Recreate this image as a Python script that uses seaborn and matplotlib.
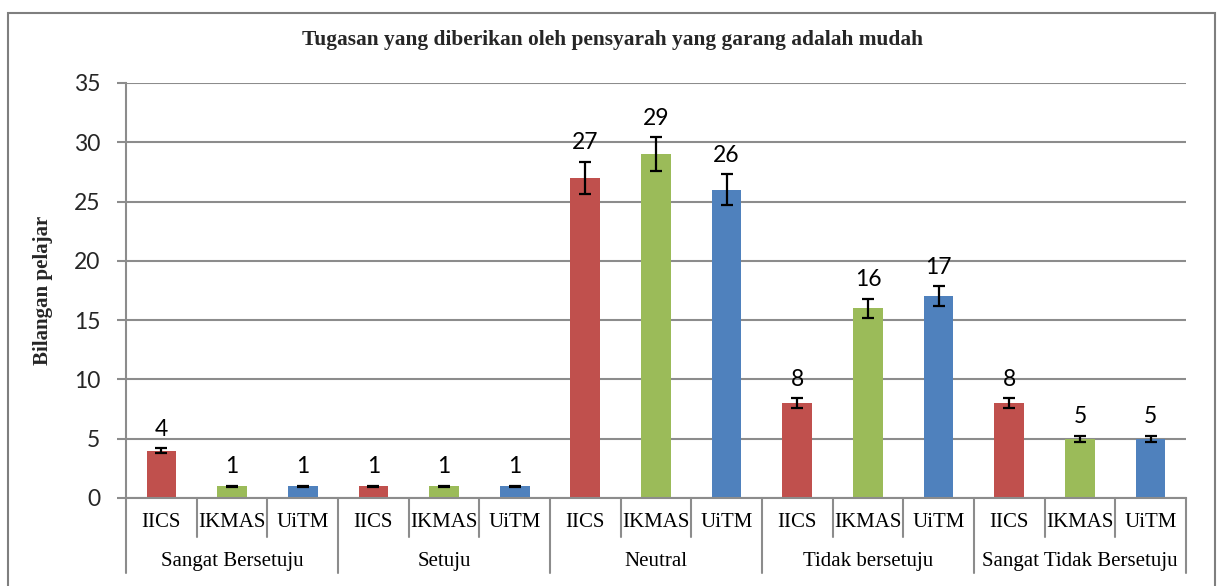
import numpy as np
import pandas as pd
import matplotlib
matplotlib.use("Agg")
import matplotlib.pyplot as plt
import seaborn as sns
from matplotlib.patches import Rectangle
from matplotlib.lines import Line2D

# data
responses = ["Sangat Bersetuju", "Setuju", "Neutral", "Tidak bersetuju", "Sangat Tidak Bersetuju"]
institutions = ["IICS", "IKMAS", "UiTM"]
iics = [4, 1, 27, 8, 8]
ikmas = [1, 1, 29, 16, 5]
uitm = [1, 1, 26, 17, 5]
# error bar half-lengths (Excel 5% error bars)
err_iics = [0.2, 0.05, 1.35, 0.4, 0.4]
err_ikmas = [0.05, 0.05, 1.45, 0.8, 0.25]
err_uitm = [0.05, 0.05, 1.3, 0.85, 0.25]
y_ticks = [0, 5, 10, 15, 20, 25, 30, 35]

title = "Tugasan yang diberikan oleh pensyarah yang garang adalah mudah"
y_label = "Bilangan pelajar"
colors = {"IICS": "#C0504D", "IKMAS": "#9BBB59", "UiTM": "#4F81BD"}

# build long table: one row per bar, in display order
rows = []
series = {"IICS": (iics, err_iics), "IKMAS": (ikmas, err_ikmas), "UiTM": (uitm, err_uitm)}
for r_i, resp in enumerate(responses):
    for inst in institutions:
        vals, errs = series[inst]
        rows.append({"slot": f"{resp}|{inst}", "response": resp, "inst": inst,
                     "count": vals[r_i], "err": errs[r_i]})
df = pd.DataFrame(rows)

sns.set_theme(style="white")
serif = ["Liberation Serif", "DejaVu Serif"]
sans = ["Lato", "DejaVu Sans"]

fig = plt.figure(figsize=(12.2, 5.86), dpi=100)
ax = fig.add_axes([0.1033, 0.1502, 0.8688, 0.7082])

sns.barplot(data=df, x="slot", y="count", hue="inst", order=df["slot"].tolist(),
            hue_order=institutions, palette=colors, dodge=False, width=0.42,
            errorbar=None, legend=False, ax=ax, saturation=1, linewidth=0)

xs = np.arange(len(df))
ax.errorbar(xs, df["count"], yerr=df["err"], fmt="none", ecolor="black",
            elinewidth=1.6, capsize=4.5, capthick=1.6, zorder=5)

for x, v, e in zip(xs, df["count"], df["err"]):
    ax.annotate(f"{v}", xy=(x, v + e), xytext=(0, 6), textcoords="offset points",
                ha="center", va="bottom", fontsize=16.5, family=sans, color="black")

grid_c = "#8c8c8c"
ax.set_ylim(0, 35)
ax.set_xlim(-0.5, len(df) - 0.5)
ax.set_yticks(y_ticks)
ax.set_yticklabels([str(t) for t in y_ticks], fontsize=16.5, family=sans)
ax.yaxis.grid(True, color=grid_c, linewidth=1.5)
ax.set_axisbelow(True)
ax.tick_params(axis="y", which="major", left=True, length=6.5, width=1.5,
               color=grid_c, pad=12)
ax.tick_params(axis="x", bottom=False, labelbottom=False)
ax.set_xlabel("")
ax.set_ylabel(y_label, fontsize=15, fontweight="bold", family=serif)
ax.yaxis.set_label_coords(-0.069, 0.5)

for side in ["top", "right"]:
    ax.spines[side].set_visible(False)
for side in ["left", "bottom"]:
    ax.spines[side].set_color(grid_c)
    ax.spines[side].set_linewidth(1.5)

# two-level category axis
trans = ax.get_xaxis_transform()
for x, inst in zip(xs, df["inst"]):
    ax.text(x, -0.060, inst, transform=trans, ha="center", va="center",
            fontsize=15, family=serif, color="black")
for i in range(len(df) + 1):
    bound = i - 0.5
    low = -0.181 if i % 3 == 0 else -0.094
    ax.add_line(Line2D([bound, bound], [0, low], transform=trans, color=grid_c,
                       linewidth=1.5, clip_on=False))
for r_i, resp in enumerate(responses):
    ax.text(r_i * 3 + 1, -0.154, resp, transform=trans, ha="center", va="center",
            fontsize=15, family=serif, color="black")

fig.text(0.502, 0.932, title, ha="center", va="center", fontsize=15.4,
         fontweight="bold", family=serif)

# outer chart border
fig.patches.append(Rectangle((0.0066, -0.05), 0.989, 1.0278, transform=fig.transFigure,
                             fill=False, edgecolor="#7f7f7f", linewidth=1.5))

fig.savefig("out.png", dpi=100)
